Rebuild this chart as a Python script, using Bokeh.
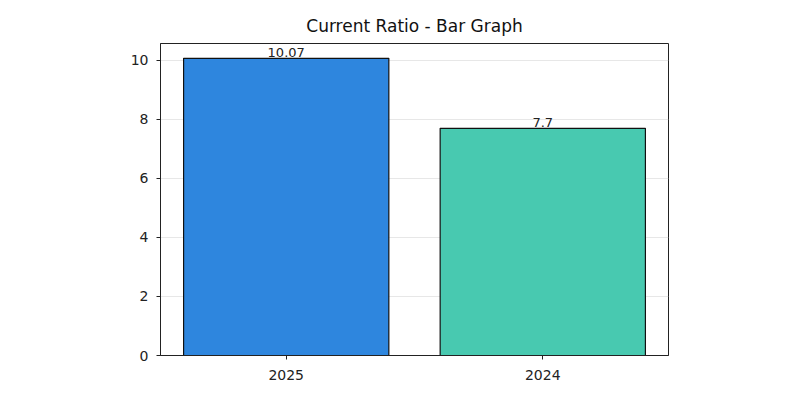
from bokeh.plotting import figure
from bokeh.models import Range1d, FixedTicker, ColumnDataSource, LabelSet
from bokeh.core.properties import value
from bokeh.embed import file_html
from bokeh.resources import INLINE

categories = ["2025", "2024"]
values = [10.07, 7.7]
bar_colors = ["#2E86DE", "#48C9B0"]
y_ticks = [0, 2, 4, 6, 8, 10]

xs = list(range(len(categories)))
src = ColumnDataSource(dict(x=xs, top=values, color=bar_colors,
                            label=[str(v) for v in values]))

p = figure(width=784, height=384, output_backend="svg", toolbar_location=None,
           x_range=Range1d(-0.49, 1.49), y_range=Range1d(0, 10.5735),
           title="Current Ratio - Bar Graph",
           min_border_left=160, min_border_right=116, min_border_bottom=29, min_border_top=43)

p.vbar(x="x", top="top", width=0.8, bottom=0, source=src, fill_color="color",
       line_color="#111111", line_width=1.2)

labels = LabelSet(x="x", y="top", text="label", source=src, text_align="center",
                  text_baseline="bottom", text_font_size="13px", text_color="#222222",
                  text_font=value("DejaVu Sans"), y_offset=1)
p.add_layout(labels)

p.title.align = "center"
p.title.text_font = "DejaVu Sans"
p.title.text_font_size = "17px"
p.title.text_font_style = "normal"
p.title.text_color = "#111111"
p.title.offset = 0
p.title.standoff = 15

p.xaxis.ticker = FixedTicker(ticks=xs)
p.xaxis.major_label_overrides = {i: c for i, c in zip(xs, categories)}
p.yaxis.ticker = FixedTicker(ticks=y_ticks)
for ax in (p.xaxis, p.yaxis):
    ax.major_label_text_font = "DejaVu Sans"
    ax.major_label_text_font_size = "14px"
    ax.major_label_text_color = "#222222"
    ax.axis_line_color = "#222222"
    ax.major_tick_line_color = "#222222"
    ax.major_tick_out = 4
    ax.major_tick_in = 0
    ax.minor_tick_line_color = None
p.xaxis.major_label_standoff = 10
p.yaxis.major_label_standoff = 8

p.xgrid.grid_line_color = None
p.ygrid.grid_line_color = "#dddddd"
p.ygrid.grid_line_alpha = 0.7
p.outline_line_color = "#222222"
p.outline_line_alpha = 1.0
p.background_fill_color = "white"
p.border_fill_color = "white"

open("out.html", "w").write(file_html(p, INLINE))
